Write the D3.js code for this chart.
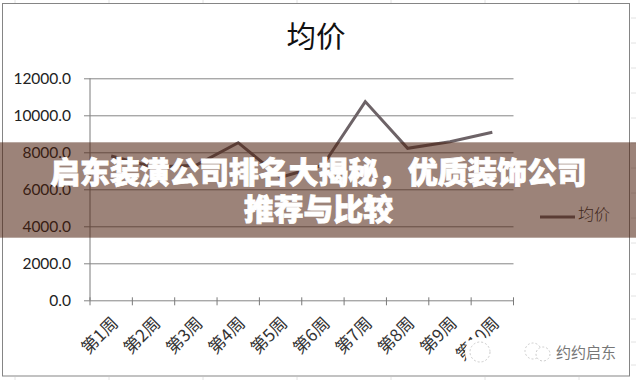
<!DOCTYPE html>
<html>
<head>
<meta charset="utf-8">
<script src="https://cdn.jsdelivr.net/npm/d3@7"></script>
<style>
html, body { margin: 0; padding: 0; background: #fff; }
svg { display: block; }
text { font-family: "Noto Sans CJK SC", sans-serif; }
</style>
</head>
<body>
<div id="chart"></div>
<script>
var weeks = ['第1周', '第2周', '第3周', '第4周', '第5周', '第6周', '第7周', '第8周', '第9周', '第10周']
var avg_price = [7800, 7200, 7300, 8520, 6650, 7300, 10740, 8215, 8570, 9080]
var y_ticks = [0, 2000, 4000, 6000, 8000, 10000, 12000]
var chart_title = '均价'
var series_name = '均价'
var headline = ['启东装潢公司排名大揭秘，优质装饰公司', '推荐与比较']
var watermark = '约约启东'

var width = 636
var height = 380
var plot = { top: 78.3, right: 513.5, bottom: 300.3, left: 90 }

var svg = d3.select('#chart').append('svg')
    .attr('width', width)
    .attr('height', height)

// spreadsheet grid showing round the chart frame
var sheet = svg.append('g').attr('stroke', '#e2e2e2').attr('stroke-width', 1)
var sheet_x = [15, 109, 203, 297, 391, 485, 579]
var sheet_y = [18, 43, 68, 93, 118, 143, 168, 193, 218, 243, 274, 296, 319, 342, 365]
sheet.selectAll('.v').data(sheet_x).enter().append('line')
    .attr('x1', d => d).attr('x2', d => d).attr('y1', 0).attr('y2', 3)
sheet.selectAll('.v2').data(sheet_x).enter().append('line')
    .attr('x1', d => d).attr('x2', d => d).attr('y1', 377).attr('y2', height)
sheet.selectAll('.h').data(sheet_y).enter().append('line')
    .attr('x1', 631).attr('x2', width).attr('y1', d => d).attr('y2', d => d)

// chart frame
svg.append('rect')
    .attr('x', 2.5).attr('y', 3.5)
    .attr('width', 627).attr('height', 372.5)
    .attr('fill', '#fff')
    .attr('stroke', '#858585')

svg.append('text')
    .attr('x', 316).attr('y', 47)
    .attr('text-anchor', 'middle')
    .attr('font-size', 29.5)
    .attr('fill', '#111')
    .text(chart_title)

// scales
var xScale = d3.scaleBand()
    .domain(weeks)
    .range([plot.left, plot.right])

var yScale = d3.scaleLinear()
    .domain([0, 12000])
    .range([plot.bottom, plot.top])

// yAxis, ticks run on across the plot as gridlines
var yAxis = svg.append('g')
    .attr('transform', 'translate(' + plot.left + ' 0)')
    .call(d3.axisLeft(yScale)
        .tickValues(y_ticks)
        .tickSize(6)
        .tickPadding(13)
        .tickFormat(d => d.toFixed(1)))

yAxis.select('.domain').attr('stroke', '#7a7a7a').attr('d', 'M0,' + plot.top + 'V' + plot.bottom)
yAxis.selectAll('.tick line')
    .attr('x1', -6)
    .attr('x2', plot.right - plot.left)
    .attr('stroke', '#858585')
yAxis.selectAll('.tick text')
    .style('font-family', 'Lato')
    .attr('font-size', 15.5)
    .attr('fill', '#222')

// xAxis, labels sit in the bands and the tick marks between them
var xAxis = svg.append('g')
    .attr('transform', 'translate(0 ' + plot.bottom + ')')
    .call(d3.axisBottom(xScale).tickSize(0).tickPadding(0))

xAxis.select('.domain').remove()
xAxis.selectAll('.tick text')
    .attr('font-size', 17)
    .attr('fill', '#333')
    .attr('text-anchor', 'end')
    .attr('dy', 0)
    .attr('transform', 'translate(8 24) rotate(-45)')

var x_edges = d3.range(weeks.length + 1).map(i => plot.left + i * xScale.step())
xAxis.selectAll('.edge').data(x_edges).enter().append('line')
    .attr('x1', d => d).attr('x2', d => d)
    .attr('y1', -3).attr('y2', 5)
    .attr('stroke', '#7a7a7a')

// data line
var line = d3.line()
    .x((d, i) => xScale(weeks[i]) + xScale.bandwidth() / 2)
    .y(d => yScale(d))

svg.append('path')
    .datum(avg_price)
    .attr('d', line)
    .attr('fill', 'none')
    .attr('stroke', '#6d6367')
    .attr('stroke-width', 3)

// legend
svg.append('line')
    .attr('x1', 540).attr('x2', 575)
    .attr('y1', 217).attr('y2', 217)
    .attr('stroke', '#6d6367')
    .attr('stroke-width', 3)
svg.append('text')
    .attr('x', 578).attr('y', 220)
    .attr('font-size', 16)
    .attr('font-weight', 300)
    .attr('fill', '#333')
    .text(series_name)

// watermark, wechat bubbles are mostly washed out
var wm = svg.append('g')
wm.append('ellipse')
    .attr('cx', 480).attr('cy', 352).attr('rx', 15).attr('ry', 15)
    .attr('fill', '#fff')
wm.selectAll('.bubble')
    .data([[480, 352, 10], [533, 351, 8], [543, 354, 7]])
    .enter().append('circle')
    .attr('cx', d => d[0]).attr('cy', d => d[1]).attr('r', d => d[2])
    .attr('fill', '#fff')
    .attr('stroke', '#ccc')
    .attr('stroke-dasharray', '2 2')
wm.append('text')
    .attr('x', 556).attr('y', 358)
    .attr('font-size', 15)
    .attr('fill', '#777')
    .text(watermark)

// headline band over everything
svg.append('rect')
    .attr('x', 0).attr('y', 142.3)
    .attr('width', width).attr('height', 95.4)
    .attr('fill', 'rgba(75,30,11,0.55)')

svg.selectAll('.headline')
    .data(headline)
    .enter().append('text')
    .attr('x', 318.5)
    .attr('y', (d, i) => 183 + i * 37)
    .attr('text-anchor', 'middle')
    .attr('font-size', 29.8)
    .attr('font-weight', 900)
    .attr('fill', '#fff')
    .attr('stroke', '#fff')
    .attr('stroke-width', 0.8)
    .text(d => d)
</script>
</body>
</html>
